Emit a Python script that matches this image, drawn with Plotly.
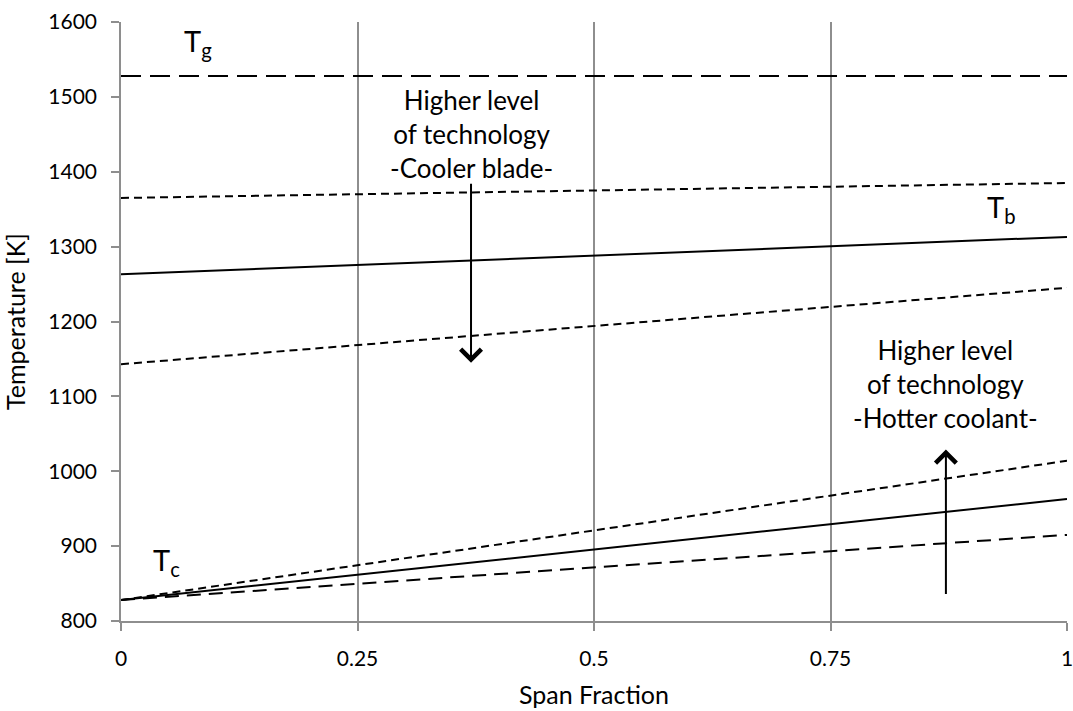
import plotly.graph_objects as go

# Span fraction at the two ends of every line
span = [0.0, 1.0]

# Temperatures [K] at span 0 and span 1
gas_temp = [1528, 1528]
blade_hot = [1365, 1385]
blade_temp = [1263, 1313]
blade_cool = [1143, 1245]
coolant_hot = [828, 1014]
coolant_temp = [828, 963]
coolant_cool = [828, 915]

x_ticks = [0, 0.25, 0.5, 0.75, 1]
x_tick_text = ["0", "0.25", "0.5", "0.75", "1"]
y_ticks = [800, 900, 1000, 1100, 1200, 1300, 1400, 1500, 1600]

FONT = "Lato"
BLACK = "#000000"
GRID = "#8e8e8e"

fig = go.Figure()

series = [
    (gas_temp, "20px,9px"),
    (blade_hot, "8px,5px"),
    (blade_temp, "solid"),
    (blade_cool, "8px,5px"),
    (coolant_hot, "8px,5px"),
    (coolant_temp, "solid"),
    (coolant_cool, "14px,8px"),
]
for values, dash in series:
    fig.add_trace(go.Scatter(
        x=span, y=values, mode="lines",
        line=dict(color=BLACK, width=2, dash=dash),
        showlegend=False, hoverinfo="skip",
    ))

# Arrows: start and end of each arrow (span, temperature)
blade_arrow = dict(x=0.37, y_from=1386, y_to=1145)
coolant_arrow = dict(x=0.872, y_from=834, y_to=1029)

annotations = []
for arr in (blade_arrow, coolant_arrow):
    annotations.append(dict(
        x=arr["x"], y=arr["y_to"], ax=arr["x"], ay=arr["y_from"],
        xref="x", yref="y", axref="x", ayref="y",
        text="", showarrow=True, arrowhead=4, arrowsize=2.0,
        arrowwidth=2, arrowcolor=BLACK,
    ))

label_font = dict(family=FONT, size=26, color=BLACK)
annotations += [
    dict(x=0.37, y=1451, xref="x", yref="y",
         text="Higher level<br>of technology<br>-Cooler blade-",
         showarrow=False, font=label_font, align="center"),
    dict(x=0.872, y=1116, xref="x", yref="y",
         text="Higher level<br>of technology<br>-Hotter coolant-",
         showarrow=False, font=label_font, align="center"),
]

sym_font = dict(family=FONT, size=29, color=BLACK)
annotations += [
    dict(x=0.081, y=1572, xref="x", yref="y", text="T<sub>g</sub>",
         showarrow=False, font=sym_font),
    dict(x=0.93, y=1351, xref="x", yref="y", text="T<sub>b</sub>",
         showarrow=False, font=sym_font),
    dict(x=0.048, y=880, xref="x", yref="y", text="T<sub>c</sub>",
         showarrow=False, font=sym_font),
]

axis_common = dict(
    showline=True, linecolor=GRID, linewidth=1.5,
    ticks="outside", ticklen=8, tickcolor=GRID, tickwidth=1.5,
    zeroline=False, ticklabelstandoff=10, ticklabeloverflow="allow",
    automargin=False,
    tickfont=dict(family=FONT, size=21, color=BLACK),
)

fig.update_layout(
    width=1073, height=711,
    margin=dict(l=121, r=6, t=21.5, b=89.5),
    paper_bgcolor="white", plot_bgcolor="white",
    font=dict(family=FONT, size=21, color=BLACK),
    annotations=annotations,
    xaxis=dict(
        range=[0, 1], tickvals=x_ticks, ticktext=x_tick_text,
        showgrid=True, gridcolor=GRID, gridwidth=1.5,
        title=dict(text="Span Fraction", font=dict(family=FONT, size=25), standoff=18),
        **axis_common,
    ),
    yaxis=dict(
        range=[800, 1600], tickvals=y_ticks,
        showgrid=False,
        title=dict(text="Temperature [K]", font=dict(family=FONT, size=25), standoff=18),
        **axis_common,
    ),
)

fig.write_html("out.html")
